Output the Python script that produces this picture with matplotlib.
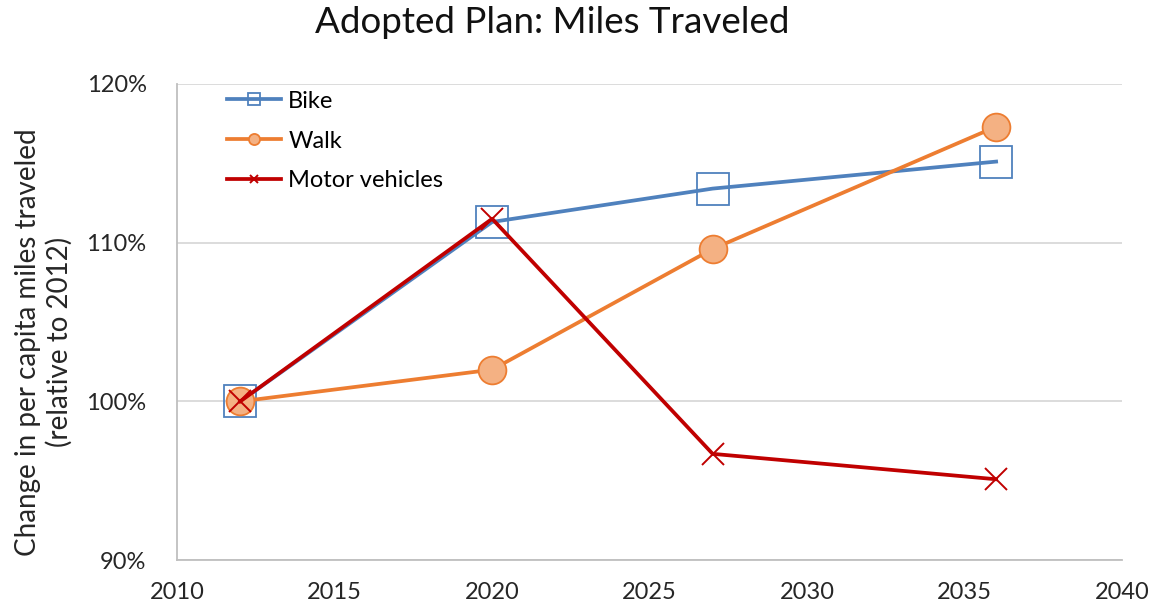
import matplotlib
matplotlib.use("Agg")
import matplotlib.pyplot as plt
from matplotlib.ticker import FuncFormatter

plt.rcParams["font.family"] = ["Lato", "DejaVu Sans"]

YEARS = [2012, 2020, 2027, 2036]
BIKE = [100.0, 111.3, 113.4, 115.1]
WALK = [100.0, 102.0, 109.6, 117.3]
MOTOR = [100.0, 111.5, 96.7, 95.1]

fig = plt.figure(figsize=(11.58, 6.07), dpi=100)
ax = fig.add_axes([0.153, 0.077, 0.816, 0.785])

ax.plot(YEARS, BIKE, color="#4f81bd", lw=2.7, marker="s", ms=23,
        mfc="none", mec="#4f81bd", mew=1.3, label="Bike")
ax.plot(YEARS, WALK, color="#ed7d31", lw=2.7, marker="o", ms=20,
        mfc="#f4b183", mec="#ed7d31", mew=1.3, label="Walk")
ax.plot(YEARS, MOTOR, color="#c00000", lw=2.7, marker="x", ms=16,
        mec="#c00000", mew=1.4, label="Motor vehicles")

ax.set_xlim(2010, 2040)
ax.set_ylim(90, 120)
ax.set_xticks(range(2010, 2041, 5))
ax.set_yticks([90, 100, 110, 120])
ax.yaxis.set_major_formatter(FuncFormatter(lambda v, p: f"{v:.0f}%"))
ax.tick_params(length=0, labelsize=17, colors="#262626")
ax.tick_params(axis="x", pad=16)
ax.tick_params(axis="y", pad=22)
ax.grid(axis="y", color="#d9d9d9", lw=1.3)
ax.set_axisbelow(True)
for s in ["top", "right"]:
    ax.spines[s].set_visible(False)
for s in ["left", "bottom"]:
    ax.spines[s].set_color("#bfbfbf")
    ax.spines[s].set_linewidth(1.3)

ax.set_ylabel("Change in per capita miles traveled\n(relative to 2012)",
              fontsize=20, color="#262626", linespacing=1.2)
ax.yaxis.set_label_coords(-0.111, 0.458)
fig.suptitle("Adopted Plan: Miles Traveled", fontsize=26.5, x=0.477, y=0.99,
             color="#111111")

ax.legend(loc="upper left", frameon=False, fontsize=17, markerscale=0.4,
          handlelength=2.3, labelspacing=0.8, bbox_to_anchor=(0.03, 1.03),
          handletextpad=0.3)

fig.savefig("out.png", dpi=100)
